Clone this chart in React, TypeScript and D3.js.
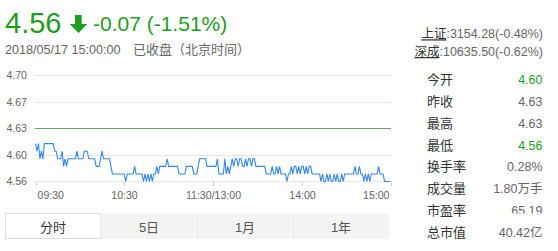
import React from 'react';
import * as d3 from 'd3';

// Minute prices, 09:30–11:30 (121 points)
const morningPrices = [
  4.61, 4.60, 4.61, 4.59, 4.60, 4.59, 4.61, 4.61, 4.61, 4.61,
  4.61, 4.61, 4.61, 4.60, 4.60, 4.59, 4.59, 4.59, 4.60, 4.58,
  4.59, 4.58, 4.59, 4.59, 4.59, 4.59, 4.59, 4.59, 4.60, 4.59,
  4.59, 4.59, 4.59, 4.60, 4.60, 4.60, 4.59, 4.59, 4.59, 4.59,
  4.59, 4.58, 4.58, 4.58, 4.59, 4.60, 4.59, 4.59, 4.59, 4.59,
  4.59, 4.58, 4.57, 4.57, 4.57, 4.57, 4.57, 4.57, 4.57, 4.57,
  4.57, 4.56, 4.57, 4.57, 4.57, 4.57, 4.57, 4.58, 4.57, 4.57,
  4.57, 4.57, 4.57, 4.56, 4.57, 4.56, 4.57, 4.56, 4.57, 4.56,
  4.57, 4.57, 4.58, 4.57, 4.58, 4.58, 4.58, 4.58, 4.58, 4.59,
  4.58, 4.58, 4.58, 4.58, 4.58, 4.58, 4.58, 4.57, 4.57, 4.57,
  4.57, 4.57, 4.58, 4.58, 4.58, 4.58, 4.58, 4.57, 4.57, 4.57,
  4.58, 4.59, 4.59, 4.59, 4.59, 4.59, 4.58, 4.58, 4.58, 4.58,
  4.58,
];

// Minute prices, 13:01–15:00 (120 points)
const afternoonPrices = [
  4.58, 4.58, 4.59, 4.57, 4.57, 4.57, 4.57, 4.59, 4.57, 4.58,
  4.57, 4.58, 4.59, 4.58, 4.59, 4.59, 4.58, 4.59, 4.59, 4.58,
  4.58, 4.59, 4.58, 4.59, 4.59, 4.58, 4.59, 4.59, 4.58, 4.58,
  4.58, 4.58, 4.58, 4.58, 4.58, 4.57, 4.57, 4.57, 4.57, 4.58,
  4.57, 4.57, 4.58, 4.57, 4.58, 4.57, 4.57, 4.57, 4.57, 4.56,
  4.57, 4.57, 4.58, 4.57, 4.58, 4.58, 4.57, 4.58, 4.57, 4.58,
  4.58, 4.57, 4.58, 4.57, 4.58, 4.58, 4.57, 4.57, 4.57, 4.57,
  4.57, 4.57, 4.56, 4.57, 4.56, 4.56, 4.57, 4.56, 4.57, 4.56,
  4.56, 4.57, 4.56, 4.57, 4.56, 4.56, 4.57, 4.56, 4.57, 4.57,
  4.57, 4.57, 4.57, 4.57, 4.57, 4.58, 4.57, 4.57, 4.58, 4.57,
  4.57, 4.56, 4.57, 4.56, 4.57, 4.56, 4.57, 4.57, 4.57, 4.57,
  4.57, 4.58, 4.57, 4.57, 4.57, 4.56, 4.56, 4.56, 4.56, 4.56,
];

const prevClose = 4.63;
const lastPrice = 4.56;
const change = -0.07;
const changePct = -1.51;

const yTickLabels = ['4.56', '4.60', '4.63', '4.67', '4.70'];
const timeLabels = ['09:30', '10:30', '11:30/13:00', '14:00', '15:00'];
const timeTickIndex = [0, 60, 120, 180, 240];

const indexNames = ['上证', '深成'];
const indexValues = [':3154.28(-0.48%)', ':10635.50(-0.62%)'];

const statLabels = ['今开', '昨收', '最高', '最低', '换手率', '成交量', '市盈率', '总市值'];
const statValues = ['4.60', '4.63', '4.63', '4.56', '0.28%', '1.80万手', '65.19', '40.42亿'];
const statIsPrice = [true, true, true, true, false, false, false, false];

const tabLabels = ['分时', '5日', '1月', '1年'];

const FONT = "'Liberation Sans', Arial, 'Noto Sans CJK SC', sans-serif";
const GREEN = '#1e9e1e';
const GRAY = '#666';
const DARK = '#333';

export default function App() {
  const prices = [...morningPrices, ...afternoonPrices];
  const yMin = 4.56;
  const yMax = 4.70;

  const x = d3.scaleLinear().domain([0, 240]).range([35.5, 390.5]);
  const y = d3.scaleLinear().domain([yMin, yMax]).range([181.5, 75.5]);

  const gridValues = d3.range(yTickLabels.length).map(
    (i) => yMin + (i * (yMax - yMin)) / (yTickLabels.length - 1)
  );
  const snap = (v: number) => Math.round(v - 0.5) + 0.5;

  const line = d3
    .line<number>()
    .x((_, i) => x(i))
    .y((d) => y(d));

  const tabX = d3.scaleBand<string>().domain(tabLabels).range([5, 389]);

  const statY = (i: number) => 83.8 + i * 21.9;

  return (
    <svg
      width={558}
      height={251}
      style={{ position: 'absolute', left: 0, top: 0, background: '#fff' }}
      fontFamily={FONT}
    >
      <defs>
        <clipPath id="pe-clip">
          <rect x={470} y={200} width={80} height={13.5} />
        </clipPath>
      </defs>

      {/* Quote header */}
      <text x={5} y={33} fontSize={29} fill={GREEN}>
        {lastPrice.toFixed(2)}
      </text>
      <path d="M75,15 H81.7 V24 H87.3 L78.5,33 L69.7,24 H75 Z" fill={GREEN} />
      <text x={93} y={31} fontSize={21} fill={GREEN}>
        {`${change.toFixed(2)} (${changePct.toFixed(2)}%)`}
      </text>
      <text y={54} fontSize={12.6} fill={GRAY}>
        <tspan x={5}>2018/05/17 15:00:00</tspan>
        <tspan x={133} fontSize={13}>已收盘</tspan>
        <tspan x={172} fontSize={13}>（北京时间）</tspan>
      </text>

      {/* Market indices */}
      {indexNames.map((name, i) => (
        <text key={name} x={543} y={38.3 + i * 17.7} fontSize={12.5} textAnchor="end" fill={GRAY}>
          <tspan fill={DARK} textDecoration="underline" style={{ textDecoration: 'underline' }}>
            {name}
          </tspan>
          <tspan>{indexValues[i]}</tspan>
        </text>
      ))}

      {/* Grid */}
      {gridValues.map((v, i) => (
        <g key={i}>
          <line
            x1={35}
            x2={391}
            y1={snap(y(v))}
            y2={snap(y(v))}
            stroke={i === 2 ? '#62a862' : '#e6e6e6'}
            strokeWidth={1}
          />
          <text x={27} y={y(v) + 3.9} fontSize={10.6} textAnchor="end" fill={GRAY}>
            {yTickLabels[i]}
          </text>
        </g>
      ))}

      {/* Time axis */}
      {timeTickIndex.map((t, i) => {
        const tx = Math.round(x(t)) + 0.5;
        const anchor = i === 0 ? 'start' : i === timeTickIndex.length - 1 ? 'end' : 'middle';
        const lx = i === 0 ? tx + 1 : i === timeTickIndex.length - 1 ? tx - 2 : tx;
        return (
          <g key={t}>
            <line x1={tx} x2={tx} y1={182} y2={186} stroke="#d0d0d0" />
            <text x={lx} y={198.5} fontSize={10.6} textAnchor={anchor} fill={GRAY}>
              {timeLabels[i]}
            </text>
          </g>
        );
      })}

      {/* Price line */}
      <path d={line(prices) ?? ''} fill="none" stroke="#3388ee" strokeWidth={1.1} />

      {/* Statistics panel */}
      {statLabels.map((lab, i) => {
        const v = statValues[i];
        const color =
          statIsPrice[i] && parseFloat(v) < prevClose ? GREEN : GRAY;
        return (
          <g key={lab}>
            <text x={427} y={statY(i)} fontSize={13} fill={DARK}>
              {lab}
            </text>
            <text
              x={542.5}
              y={statY(i)}
              fontSize={12.5}
              textAnchor="end"
              fill={color}
              clipPath={lab === '市盈率' ? 'url(#pe-clip)' : undefined}
            >
              {v}
            </text>
          </g>
        );
      })}

      {/* Period tabs */}
      <rect x={101.5} y={213.5} width={287.5} height={25.5} fill="#f4f4f4" />
      {tabLabels.map((t, i) => {
        const bx = tabX(t) ?? 0;
        const bw = tabX.bandwidth();
        return (
          <g key={t}>
            {i === 0 ? (
              <rect x={bx + 0.5} y={213.5} width={bw - 0.5} height={25} fill="#fff" stroke="#dcdcdc" />
            ) : (
              i > 1 && <line x1={Math.round(bx) + 0.5} x2={Math.round(bx) + 0.5} y1={214} y2={239} stroke="#e9e9e9" />
            )}
            <text x={bx + bw / 2} y={231.5} fontSize={13} textAnchor="middle" fill={i === 0 ? DARK : '#555'}>
              {t}
            </text>
          </g>
        );
      })}
    </svg>
  );
}
